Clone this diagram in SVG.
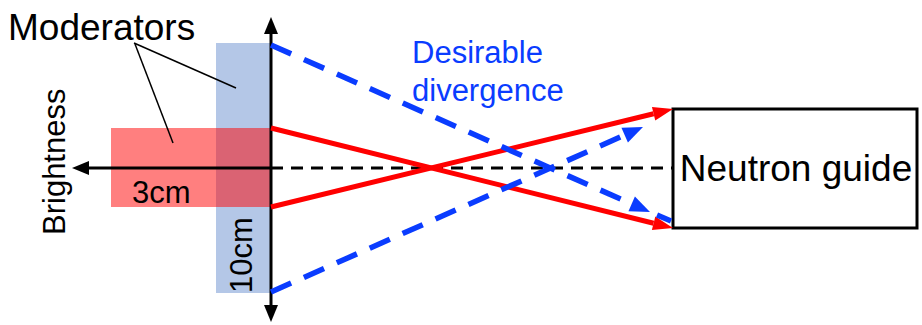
<svg xmlns="http://www.w3.org/2000/svg" width="922" height="325" viewBox="0 0 922 325">
<defs>
<style>
text{font-family:"Liberation Sans",Arial,sans-serif;}
.red{stroke:#ff0000;stroke-width:5;fill:none;}
.blue{stroke:#0a3cff;stroke-width:5.5;fill:none;stroke-dasharray:22 14;}
.axis{stroke:#000;stroke-width:3;fill:none;}
.lead{stroke:#000;stroke-width:1.5;fill:none;}
</style>
<marker id="ar" markerUnits="userSpaceOnUse" orient="auto" markerWidth="22" markerHeight="18" refX="0" refY="9" viewBox="0 0 22 18" overflow="visible"><path d="M0,2 L20,9 L0,16 Z" fill="#ff0000"/></marker>
<marker id="ab" markerUnits="userSpaceOnUse" orient="auto" markerWidth="22" markerHeight="20" refX="0" refY="10" viewBox="0 0 22 20" overflow="visible"><path d="M0,2 L20,10 L0,18 Z" fill="#0a3cff"/></marker>
<marker id="ak" markerUnits="userSpaceOnUse" orient="auto" markerWidth="18" markerHeight="16" refX="0" refY="8" viewBox="0 0 18 16" overflow="visible"><path d="M0,1 L17,8 L0,15 Z" fill="#000"/></marker>
</defs>
<g id="moderator-10cm"><rect x="216" y="43" width="55" height="250" fill="#b4c7e7"/></g>
<g id="moderator-3cm"><rect x="111" y="128" width="160" height="79" fill="#ff0000" fill-opacity="0.5"/></g>
<g id="neutron-guide">
<rect x="673" y="109" width="244" height="119" fill="#fff" stroke="#000" stroke-width="3"/>
<text x="796" y="181" font-size="37" text-anchor="middle">Neutron guide</text>
</g>
<g id="connectors">
<line class="axis" x1="271" y1="168" x2="673" y2="168" stroke-dasharray="12 8"/>
<line class="axis" x1="271" y1="168" x2="89" y2="168" marker-end="url(#ak)"/>
<line class="axis" x1="271" y1="168" x2="271" y2="34" marker-end="url(#ak)"/>
<line class="axis" x1="271" y1="168" x2="271" y2="305" marker-end="url(#ak)"/>
<line class="red" x1="271" y1="128" x2="653.6" y2="223.2" marker-end="url(#ar)"/>
<line class="red" x1="271" y1="207" x2="653.6" y2="113.7" marker-end="url(#ar)"/>
<line class="blue" x1="271" y1="45" x2="631.7" y2="203.9" marker-end="url(#ab)"/>
<line class="blue" x1="657" y1="215" x2="671" y2="221" stroke-dasharray="none"/>
<line class="blue" x1="271" y1="292" x2="624.7" y2="135.1" marker-end="url(#ab)"/>
<line class="lead" x1="134" y1="43" x2="236" y2="88"/>
<line class="lead" x1="135" y1="44" x2="173" y2="143"/>
</g>
<g id="labels">
<text x="8" y="40" font-size="37">Moderators</text>
<text transform="translate(65,235) rotate(-90)" font-size="31">Brightness</text>
<text x="132" y="203" font-size="31">3cm</text>
<text transform="translate(252,293) rotate(-90)" font-size="31">10cm</text>
<text x="412" y="63" font-size="31" fill="#0a3cff">Desirable</text>
<text x="412" y="101" font-size="31" fill="#0a3cff">divergence</text>
</g>
</svg>
